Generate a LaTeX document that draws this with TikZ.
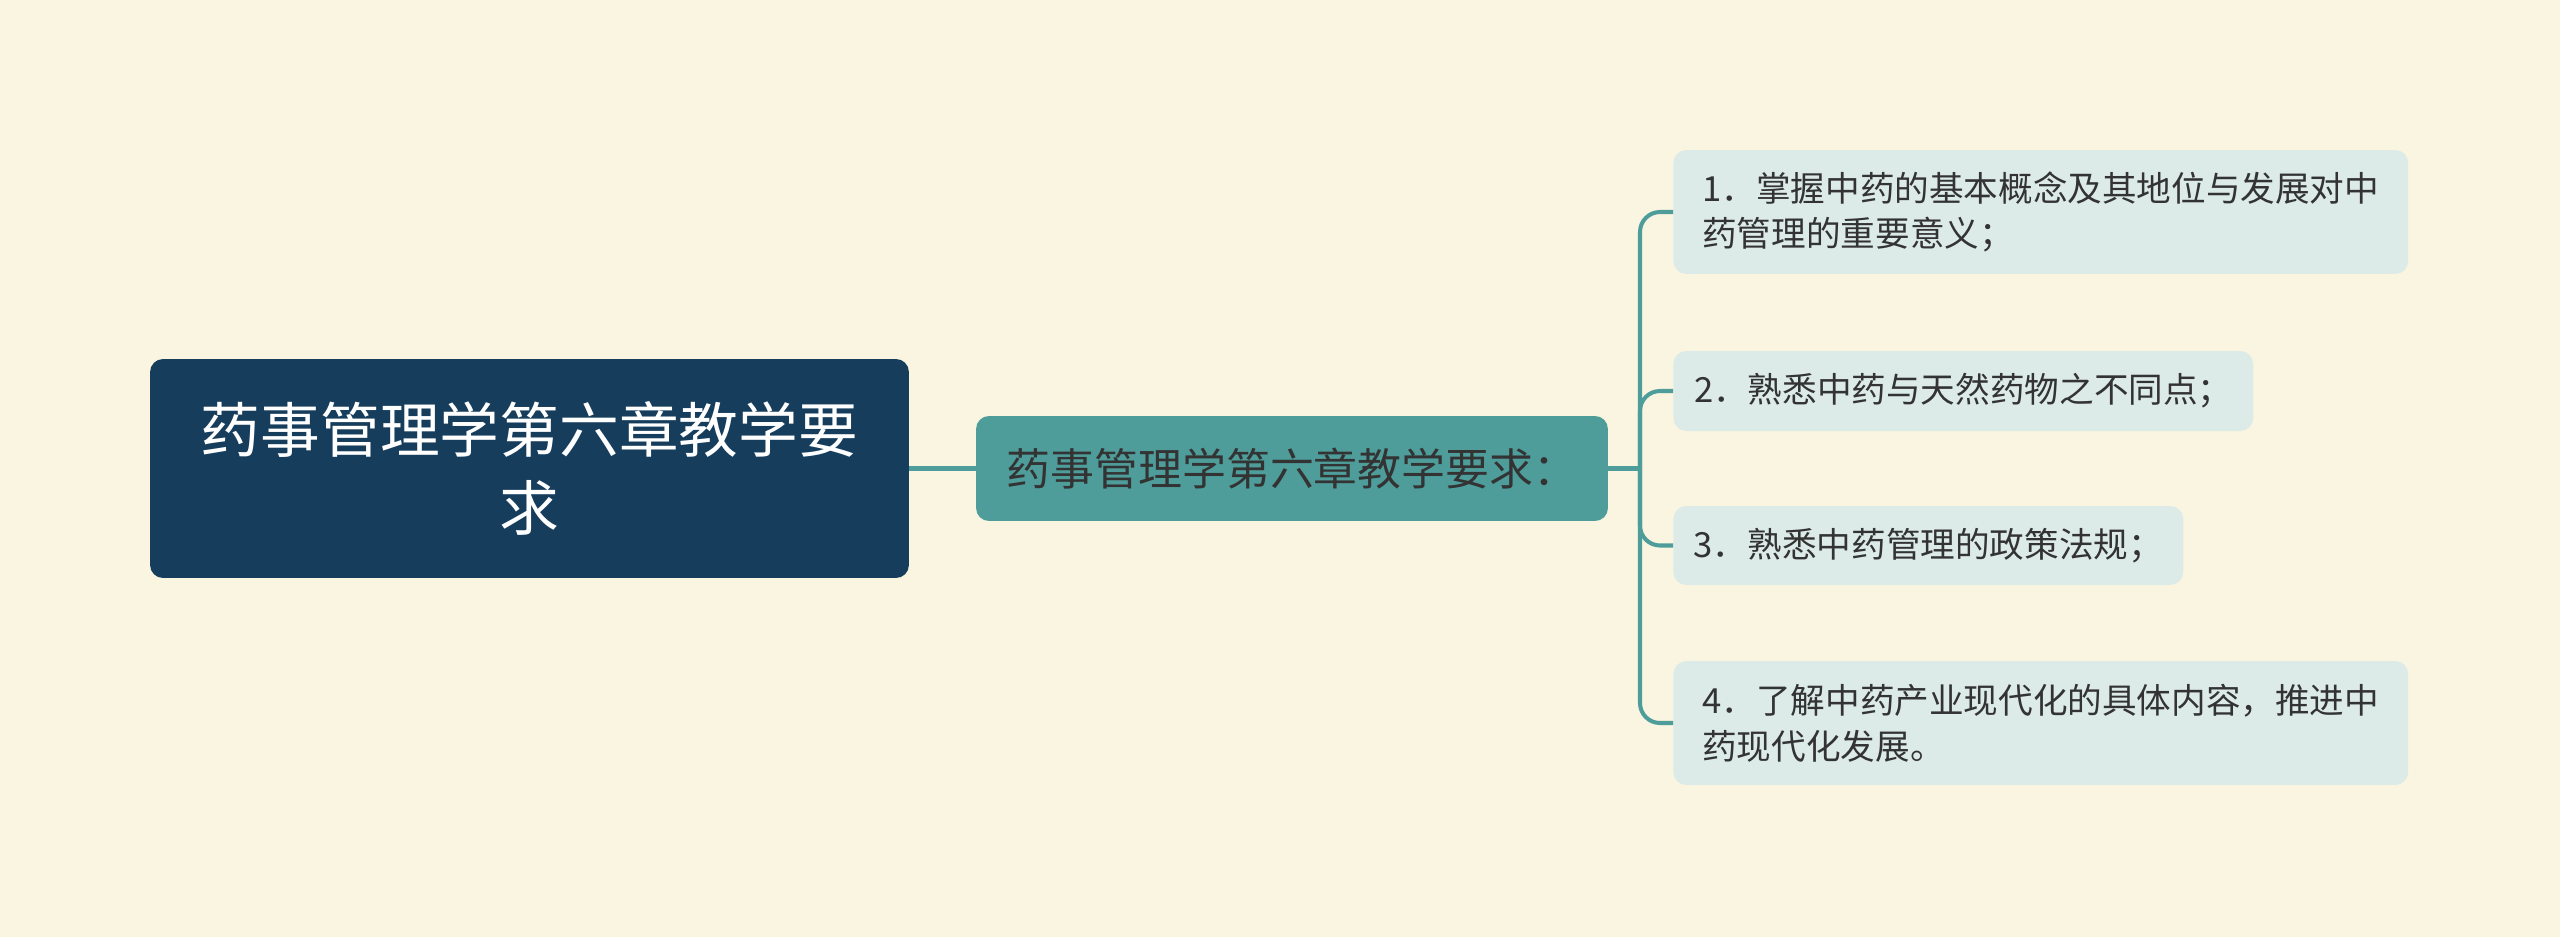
\documentclass[tikz,border=0pt]{standalone}
\usepackage{fontspec}
\newfontfamily\cjk{Noto Sans CJK SC}
\usetikzlibrary{calc}
\definecolor{bgcream}{RGB}{250,245,224}
\definecolor{rootblue}{RGB}{22,61,92}
\definecolor{midteal}{RGB}{78,157,155}
\definecolor{leafmint}{RGB}{220,235,232}
\definecolor{inkgrey}{RGB}{51,51,51}
\tikzset{
  rootbox/.style={fill=rootblue, rounded corners=0.26cm, align=center, text=white,
    minimum width=15.18cm, minimum height=4.38cm, font=\cjk\fontsize{34}{44}\selectfont},
  midbox/.style={fill=midteal, rounded corners=0.26cm, align=center, text=inkgrey,
    minimum width=12.64cm, minimum height=2.1cm, font=\cjk\fontsize{25}{30}\selectfont},
  leafbox/.style={fill=leafmint, rounded corners=0.26cm, align=left, text=inkgrey,
    anchor=west, inner xsep=0.3cm, font=\cjk\fontsize{19.7}{26}\selectfont},
  link/.style={draw=midteal, line width=2.3pt, rounded corners=0.4cm}
}
\begin{document}
\begin{tikzpicture}[x=0.02cm, y=-0.02cm]
			%%%%% START %%%%%
			
			\fill[bgcream] (0, 0) rectangle (2560, 937);
			\useasboundingbox (0, 0) rectangle (2560, 937);
			
			\node[rootbox] (root) at (529.5, 468.5) {药事管理学第六章教学要\\求};
			\node[midbox] (req) at (1292, 468.5) {药事管理学第六章教学要求：};
			
			\node[leafbox, minimum width=14.7cm, minimum height=2.48cm] (aim1) at (1673, 212) {1．掌握中药的基本概念及其地位与发展对中\\药管理的重要意义；};
			\node[leafbox, minimum width=11.6cm, minimum height=1.6cm] (aim2) at (1673, 391) {2．熟悉中药与天然药物之不同点；};
			\node[leafbox, minimum width=10.2cm, minimum height=1.58cm] (aim3) at (1673, 545.5) {3．熟悉中药管理的政策法规；};
			\node[leafbox, minimum width=14.7cm, minimum height=2.48cm] (aim4) at (1673, 723) {4．了解中药产业现代化的具体内容，推进中\\药现代化发展。};
			
			\coordinate (hub) at (1640, 468.5);
			
			\draw[link] (root.east) -- (req.west);
			\draw[link] (req.east) -- (hub);
			\draw[link] (hub) |- (aim1.west);
			\draw[link] (hub) |- (aim2.west);
			\draw[link] (hub) |- (aim3.west);
			\draw[link] (hub) |- (aim4.west);
			
			%%%%% END %%%%%
\end{tikzpicture}
\end{document}
